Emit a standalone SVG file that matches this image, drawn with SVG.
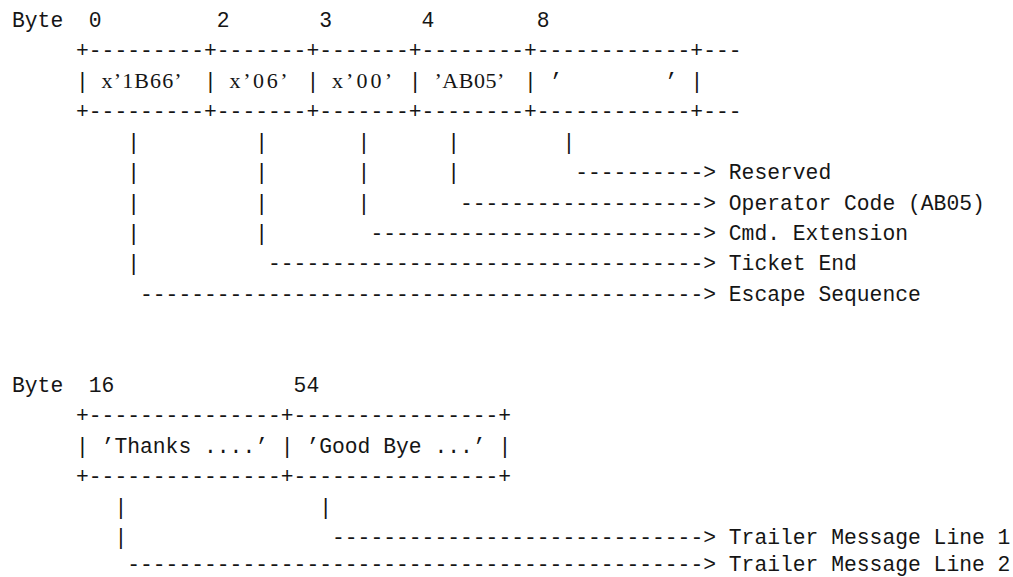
<svg xmlns="http://www.w3.org/2000/svg" width="1013" height="577" viewBox="0 0 1013 577">
<style>
text{fill:#151515}
.m{font-family:"Liberation Mono","DejaVu Sans Mono",monospace;font-size:21.333px}
.s{font-family:"Liberation Serif","DejaVu Serif",serif;font-size:22px}
</style>
<rect width="1013" height="577" fill="#ffffff"/>

<!-- ===== First record ===== -->
<g id="header-1" class="m">
  <text x="12" y="27">Byte</text>
  <text x="88.8" y="27">0</text>
  <text x="216.8" y="27">2</text>
  <text x="319.2" y="27">3</text>
  <text x="421.6" y="27">4</text>
  <text x="536.8" y="27">8</text>
</g>

<g id="record-1">
  <text class="m" x="76" y="57.42">+---------+-------+-------+--------+------------+---</text>
  <g id="field-escape">
    <text class="m" x="76" y="87.84">|</text>
    <text class="s" x="101.6" y="87.84" textLength="80" lengthAdjust="spacing">x’1B66’</text>
  </g>
  <g id="field-ticket-end">
    <text class="m" x="204" y="87.84">|</text>
    <text class="s" x="229.6" y="87.84" textLength="58" lengthAdjust="spacing">x’06’</text>
  </g>
  <g id="field-cmd-ext">
    <text class="m" x="306.4" y="87.84">|</text>
    <text class="s" x="332" y="87.84" textLength="60" lengthAdjust="spacing">x’00’</text>
  </g>
  <g id="field-operator">
    <text class="m" x="408.8" y="87.84">|</text>
    <text class="s" x="434.4" y="87.84" textLength="70" lengthAdjust="spacing">’AB05’</text>
  </g>
  <g id="field-reserved">
    <text class="m" x="524" y="87.84">|</text>
    <text class="m" x="549.6" y="87.84">’</text>
    <text class="m" x="664.8" y="87.84">’</text>
    <text class="m" x="690.4" y="87.84">|</text>
  </g>
  <text class="m" x="76" y="118.26">+---------+-------+-------+--------+------------+---</text>
</g>

<g id="connectors-1" class="m">
  <text x="127.2" y="148.68">|</text>
  <text x="255.2" y="148.68">|</text>
  <text x="357.6" y="148.68">|</text>
  <text x="447.2" y="148.68">|</text>
  <text x="562.4" y="148.68">|</text>
  <text x="127.2" y="179.1">|</text>
  <text x="255.2" y="179.1">|</text>
  <text x="357.6" y="179.1">|</text>
  <text x="447.2" y="179.1">|</text>
  <text x="575.2" y="179.1" textLength="128" lengthAdjust="spacing">----------</text>
  <text x="703.2" y="179.1">&gt;</text>
  <text x="127.2" y="209.52">|</text>
  <text x="255.2" y="209.52">|</text>
  <text x="357.6" y="209.52">|</text>
  <text x="460" y="209.52" textLength="243.2" lengthAdjust="spacing">-------------------</text>
  <text x="703.2" y="209.52">&gt;</text>
  <text x="127.2" y="239.94">|</text>
  <text x="255.2" y="239.94">|</text>
  <text x="370.4" y="239.94" textLength="332.8" lengthAdjust="spacing">--------------------------</text>
  <text x="703.2" y="239.94">&gt;</text>
  <text x="127.2" y="270.36">|</text>
  <text x="268" y="270.36" textLength="435.2" lengthAdjust="spacing">----------------------------------</text>
  <text x="703.2" y="270.36">&gt;</text>
  <text x="140" y="300.78" textLength="563.2" lengthAdjust="spacing">--------------------------------------------</text>
  <text x="703.2" y="300.78">&gt;</text>
</g>

<g id="labels-1" class="m">
  <text id="lbl-reserved" x="728.8" y="179.1">Reserved</text>
  <text id="lbl-operator" x="728.8" y="209.52">Operator Code (AB05)</text>
  <text id="lbl-cmd" x="728.8" y="239.94">Cmd. Extension</text>
  <text id="lbl-ticket" x="728.8" y="270.36">Ticket End</text>
  <text id="lbl-escape" x="728.8" y="300.78">Escape Sequence</text>
</g>

<!-- ===== Second record ===== -->
<g id="header-2" class="m">
  <text x="12" y="392.04">Byte</text>
  <text x="88.8" y="392.04">16</text>
  <text x="293.6" y="392.04">54</text>
</g>

<g id="record-2" class="m">
  <text x="76" y="422.46">+---------------+----------------+</text>
  <g id="field-line1">
    <text x="76" y="452.88">|</text>
    <text x="101.6" y="452.88">’Thanks ....’</text>
  </g>
  <g id="field-line2">
    <text x="280.8" y="452.88">|</text>
    <text x="306.4" y="452.88">’Good Bye ...’</text>
    <text x="498.4" y="452.88">|</text>
  </g>
  <text x="76" y="483.3">+---------------+----------------+</text>
</g>

<g id="connectors-2" class="m">
  <text x="114.4" y="513.72">|</text>
  <text x="319.2" y="513.72">|</text>
  <text x="114.4" y="544.14">|</text>
  <text x="332" y="544.14" textLength="371.2" lengthAdjust="spacing">-----------------------------</text>
  <text x="703.2" y="544.14">&gt;</text>
  <text x="127.2" y="571" textLength="576" lengthAdjust="spacing">---------------------------------------------</text>
  <text x="703.2" y="571">&gt;</text>
</g>

<g id="labels-2" class="m">
  <text id="lbl-trailer1" x="728.8" y="544.14">Trailer Message Line 1</text>
  <text id="lbl-trailer2" x="728.8" y="571">Trailer Message Line 2</text>
</g>
</svg>
